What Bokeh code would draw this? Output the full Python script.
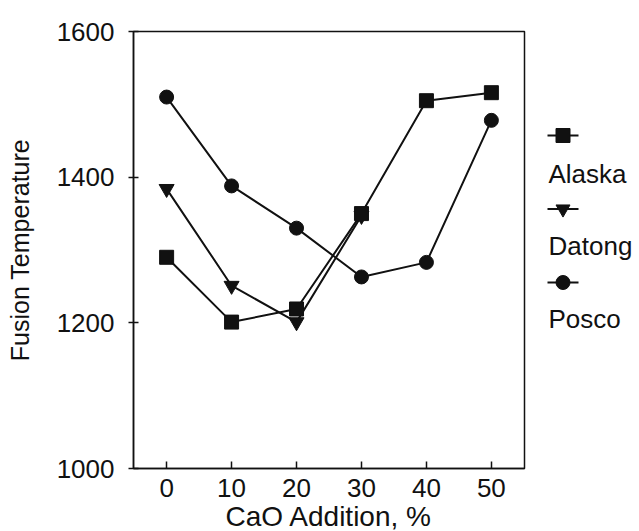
from bokeh.plotting import figure
from bokeh.models import Range1d, FixedTicker
from bokeh.layouts import row
from bokeh.embed import file_html
from bokeh.resources import INLINE
from bokeh.core.properties import value

cao = [0, 10, 20, 30, 40, 50]
alaska = [1290, 1201, 1219, 1350, 1505, 1516]
datong_x = [0, 10, 20, 30]
datong = [1384, 1251, 1201, 1347]
posco = [1510, 1388, 1330, 1263, 1283, 1478]
series_names = ["Alaska", "Datong", "Posco"]
x_ticks = [0, 10, 20, 30, 40, 50]
y_ticks = [1000, 1200, 1400, 1600]

FONT = "Liberation Sans"
INK = "#111111"

TOP, FH, BOT = 31, 437, 63

p = figure(frame_width=391, frame_height=FH, output_backend="svg",
           toolbar_location=None, x_range=Range1d(-5.1, 55.1),
           y_range=Range1d(1000, 1600),
           min_border_left=133, min_border_top=TOP, min_border_bottom=BOT,
           min_border_right=5)
p.outline_line_color = INK
p.outline_line_width = 1.5
p.xgrid.visible = False
p.ygrid.visible = False
p.background_fill_color = "white"
p.border_fill_color = "white"

p.xaxis.ticker = FixedTicker(ticks=x_ticks)
p.yaxis.ticker = FixedTicker(ticks=y_ticks)
for ax in (p.xaxis[0], p.yaxis[0]):
    ax.axis_line_color = INK
    ax.axis_line_width = 1.5
    ax.major_tick_line_color = INK
    ax.major_tick_line_width = 1.5
    ax.minor_tick_line_color = None
    ax.major_label_text_font = FONT
    ax.major_label_text_font_size = "26px"
    ax.major_label_text_color = INK
    ax.axis_label_text_font = FONT
    ax.axis_label_text_font_style = "normal"
    ax.axis_label_text_color = INK

p.xaxis.major_tick_in = 7
p.xaxis.major_tick_out = 0
p.xaxis.major_label_standoff = 10
p.xaxis.axis_label = "CaO Addition, %"
p.xaxis.axis_label_text_font_size = "28px"
p.xaxis.axis_label_standoff = 1

p.yaxis.major_tick_in = 5
p.yaxis.major_tick_out = 5
p.yaxis.major_label_standoff = 14
p.yaxis.axis_label = "Fusion Temperature"
p.yaxis.axis_label_text_font_size = "25px"
p.yaxis.axis_label_standoff = 20

lw = 2
p.line(cao, posco, line_color=INK, line_width=lw)
p.scatter(cao, posco, marker="circle", size=14, fill_color=INK, line_color=INK)
p.line(datong_x, datong, line_color=INK, line_width=lw)
p.scatter(datong_x, datong, marker="inverted_triangle", size=15, fill_color=INK, line_color=INK)
p.line(cao, alaska, line_color=INK, line_width=lw)
p.scatter(cao, alaska, marker="square", size=14, fill_color=INK, line_color=INK)

# legend panel: frame aligned with the main frame, y in page pixels (downward)
LW = 108
leg = figure(frame_width=LW, frame_height=FH, output_backend="svg",
             toolbar_location=None, x_range=Range1d(0, LW),
             y_range=Range1d(TOP + FH, TOP), min_border_left=0,
             min_border_right=0, min_border_top=TOP, min_border_bottom=BOT)
leg.axis.visible = False
leg.grid.visible = False
leg.outline_line_color = None
leg.background_fill_color = "white"
leg.border_fill_color = "white"

markers = ["square", "inverted_triangle", "circle"]
icon_y = [135 + 73.5 * i for i in range(3)]
text_y = [173 + 72.5 * i for i in range(3)]
for m, iy in zip(markers, icon_y):
    leg.line([18, 49], [iy, iy], line_color=INK, line_width=lw)
    leg.scatter([33.5], [iy], marker=m, size=14, fill_color=INK, line_color=INK)
leg.text(x=[19] * 3, y=text_y, text=series_names, text_font=value(FONT),
         text_font_size="26px", text_color=INK, text_baseline="middle",
         text_align="left")

layout = row(p, leg, spacing=0)
open("out.html", "w").write(file_html(layout, INLINE))
